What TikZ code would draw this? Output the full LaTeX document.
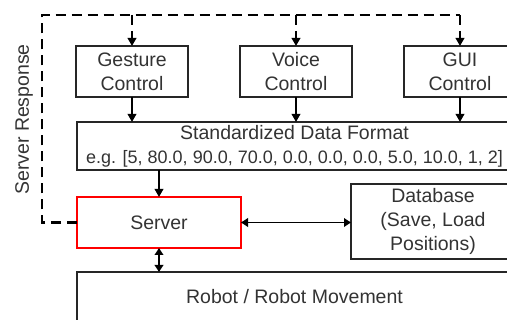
\documentclass[tikz,border=0pt]{standalone}
\usepackage{fontspec}
\setmainfont{Liberation Sans}
\usetikzlibrary{arrows.meta}
\begin{document}
\begin{tikzpicture}[x=1pt,y=-1pt,
  box/.style={draw=black!85,line width=1.6pt,inner sep=0pt,outer sep=0pt,align=center,
    text=black!80,font=\fontsize{19.5}{24}\selectfont},
  redbox/.style={box,draw=red,line width=2pt},
  arr/.style={line width=1.8pt,-{Triangle[length=8pt,width=8.5pt]}},
  darr/.style={line width=1.8pt,{Triangle[length=7pt,width=8.5pt]}-{Triangle[length=7pt,width=8.5pt]}},
  dsh/.style={line width=2.8pt,dash pattern=on 10pt off 6pt},
  dsharr/.style={dsh,-{Triangle[length=8pt,width=8.5pt]}}]
\useasboundingbox (0,0) rectangle (507,320);
\clip (0,0) rectangle (507,320);
\node[box,minimum width=112pt,minimum height=51pt] (gest) at (132,71.5) {Gesture\\Control};
\node[box,minimum width=112pt,minimum height=51pt] (voice) at (296,71.5) {Voice\\Control};
\node[box,minimum width=112pt,minimum height=51pt] (gui) at (460,71.5) {GUI\\Control};
\node[box,minimum width=435pt,minimum height=48pt] (std) at (294.5,146) {Standardized Data Format\\{\fontsize{18}{22}\selectfont e.g. [5, 80.0, 90.0, 70.0, 0.0, 0.0, 0.0, 5.0, 10.0, 1, 2]}};
\node[redbox,minimum width=164pt,minimum height=51pt] (srv) at (159,222.5) {Server};
\node[box,minimum width=164pt,minimum height=75pt] (db) at (433,221.5) {Database\\(Save, Load\\Positions)};
\node[box,minimum width=435pt,minimum height=50pt] (rob) at (294.5,297) {Robot / Robot Movement};
\node[rotate=90,text=black!80,font=\fontsize{19.5}{24}\selectfont,inner sep=0pt] (resp) at (24,119.5) {Server Response};
\coordinate (c1) at (42,222.5);
\coordinate (c2) at (42,15);
\coordinate (c3) at (460,15);
\draw[dsh] (srv.west) -- (c1) -- (c2) -- (c3);
\draw[dsharr] (gest.north |- c2) -- (gest.north);
\draw[dsharr] (voice.north |- c2) -- (voice.north);
\draw[dsharr] (c3) -- (gui.north);
\draw[arr] (gest.south) -- (gest.south |- std.north);
\draw[arr] (voice.south) -- (voice.south |- std.north);
\draw[arr] (gui.south) -- (gui.south |- std.north);
\draw[arr] (std.south -| srv.north) -- (srv.north);
\draw[darr] (srv.east) -- (srv.east -| db.west);
\draw[darr] (srv.south) -- (srv.south |- rob.north);
\end{tikzpicture}
\end{document}
